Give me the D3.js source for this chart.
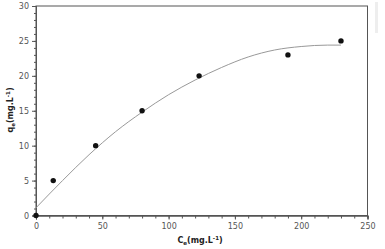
<!DOCTYPE html>
<html><head><meta charset="utf-8">
<script src="https://cdn.jsdelivr.net/npm/d3@7"></script>
<style>body{margin:0;background:#fff;}svg{display:block;}</style>
</head><body><svg id="c" width="385" height="249"></svg>
<script>
const pointX = [0, 13, 45, 80, 123, 190, 230];
const pointY = [0, 5, 10, 15, 20, 23, 25];
const fitX = [0, 20, 40, 60, 80, 100, 120, 140, 160, 180, 200, 220, 230];
const fitY = [1.1, 5.0, 8.7, 12.0, 14.8, 17.3, 19.4, 21.2, 22.7, 23.7, 24.2, 24.4, 24.4];
const xTicks = [0, 50, 100, 150, 200, 250];
const yTicks = [0, 5, 10, 15, 20, 25, 30];

const svg = d3.select("#c");
const L = 36, R = 367.5, T = 6, B = 215.5;
const x = d3.scaleLinear().domain([0, 250]).range([L, R]);
const y = d3.scaleLinear().domain([0, 30]).range([B, T]);
const axisColor = "#555";
const font = "DejaVu Sans, sans-serif";

svg.append("rect").attr("x", L).attr("y", T).attr("width", R - L).attr("height", B - T)
  .attr("fill", "none").attr("stroke", axisColor).attr("stroke-width", 1);

svg.append("rect").attr("x", 375).attr("y", 2).attr("width", 3).attr("height", 31).attr("fill", "#eee");

const xa = svg.append("g").attr("transform", `translate(0,${B})`)
  .call(d3.axisBottom(x).tickValues(xTicks).tickSize(4).tickPadding(4));
const xm = svg.append("g").attr("transform", `translate(0,${B})`)
  .call(d3.axisBottom(x).tickValues(d3.range(0, 251, 10)).tickSize(3).tickFormat(""));
const ya = svg.append("g").attr("transform", `translate(${L},0)`)
  .call(d3.axisLeft(y).tickValues(yTicks).tickSize(4).tickPadding(3));
const ym = svg.append("g").attr("transform", `translate(${L},0)`)
  .call(d3.axisLeft(y).tickValues(d3.range(0, 31, 1)).tickSize(2).tickFormat(""));
[xa, xm, ya, ym].forEach(g => {
  g.select(".domain").attr("stroke", axisColor);
  g.selectAll(".tick line").attr("stroke", axisColor);
  g.selectAll("text").attr("fill", "#555").style("font-family", font).style("font-size", "8px");
});

const line = d3.line().x(d => x(d[0])).y(d => y(d[1])).curve(d3.curveMonotoneX);
svg.append("path").datum(fitX.map((v, i) => [v, fitY[i]]))
  .attr("d", line).attr("fill", "none").attr("stroke", "#999").attr("stroke-width", 1);

svg.selectAll("circle.pt").data(pointX.map((v, i) => [v, pointY[i]])).enter()
  .append("circle").attr("class", "pt")
  .attr("cx", d => x(d[0])).attr("cy", d => y(d[1])).attr("r", 2.7).attr("fill", "#111");

const xl = svg.append("text").attr("x", 200).attr("y", 243).attr("text-anchor", "middle")
  .style("font-family", font).style("font-size", "8px").style("font-weight", "bold").attr("fill", "#222");
xl.append("tspan").text("C");
xl.append("tspan").text("e").style("font-size", "5.5px").attr("dy", 1.5);
xl.append("tspan").text("(mg.L").attr("dy", -1.5);
xl.append("tspan").text("-1").style("font-size", "5.5px").attr("dy", -3);
xl.append("tspan").text(")").attr("dy", 3);

const yl = svg.append("text").attr("transform", "translate(13,110) rotate(-90)").attr("text-anchor", "middle")
  .style("font-family", font).style("font-size", "8px").style("font-weight", "bold").attr("fill", "#222");
yl.append("tspan").text("q");
yl.append("tspan").text("e").style("font-size", "5.5px").attr("dy", 1.5);
yl.append("tspan").text("(mg.L").attr("dy", -1.5);
yl.append("tspan").text("-1").style("font-size", "5.5px").attr("dy", -3);
yl.append("tspan").text(")").attr("dy", 3);
</script></body></html>
